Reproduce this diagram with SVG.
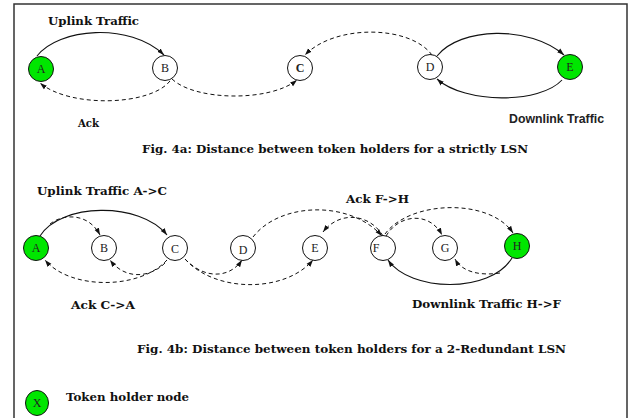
<svg xmlns="http://www.w3.org/2000/svg" width="639" height="418" viewBox="0 0 639 418">
<style>
.nd{fill:#fff;stroke:#111;stroke-width:1}
.tk{fill:#00e600;stroke:#111;stroke-width:1}
.lb{font-family:"Liberation Serif","Times New Roman",serif;font-size:12px;fill:#222;text-anchor:middle}
.bt{font-family:"DejaVu Serif","Liberation Serif",serif;font-size:11px;font-weight:bold;fill:#111}
.st{font-family:"Liberation Sans",Arial,sans-serif;font-size:12px;font-weight:bold;fill:#222}
.sol{fill:none;stroke:#111;stroke-width:1.1;marker-end:url(#ah)}
.dsh{fill:none;stroke:#111;stroke-width:1;stroke-dasharray:4 3;marker-end:url(#ah)}
</style>
<defs>
<marker id="ah" markerUnits="userSpaceOnUse" markerWidth="8" markerHeight="6" refX="7" refY="3" orient="auto">
<path d="M0,0.6 L7,3 L0,5.4 Z" fill="#111"/>
</marker>
</defs>
<rect width="639" height="418" fill="#fff"/>
<path d="M14,418 V4 H627 V418" fill="none" stroke="#333" stroke-width="1.5"/>

<g id="connectors">
<!-- Fig 4a -->
<path class="sol" d="M37,56 C58,28 130,22 164,55"/>
<path class="dsh" d="M170,81 C150,106 70,108 40,83"/>
<path class="dsh" d="M172,79 C195,101 270,102 297,80"/>
<path class="dsh" d="M432,55 C410,25 335,24 305,55"/>
<path class="sol" d="M437,56 C460,27 530,25 564,55"/>
<path class="sol" d="M562,80 C540,104 465,104 437,79"/>
<!-- Fig 4b -->
<path class="sol" d="M40,236 C60,203 140,201 167,235"/>
<path class="dsh" d="M50,224 C62,214 88,212 100,235"/>
<path class="dsh" d="M167,260 C140,290 70,290 45,260"/>
<path class="dsh" d="M165,263 C150,278 125,280 110,260"/>
<path class="dsh" d="M185,259 C205,280 230,278 242,260"/>
<path class="dsh" d="M185,259 C215,293 285,293 313,260"/>
<path class="dsh" d="M253,237 C280,202 350,200 382,236"/>
<path class="dsh" d="M383,236 C370,214 340,210 323,232"/>
<path class="dsh" d="M385,234 C410,200 490,198 513,233"/>
<path class="dsh" d="M386,236 C400,213 430,212 442,235"/>
<path class="sol" d="M512,258 C490,294 410,292 388,260"/>
<path class="dsh" d="M500,273 C480,276 462,272 455,259"/>
</g>

<!-- Fig 4a nodes -->
<g id="a1"><circle class="tk" cx="41" cy="69" r="12.5"/><text class="lb" x="41" y="73">A</text></g>
<g id="b1"><circle class="nd" cx="165" cy="68" r="12.5"/><text class="lb" x="165" y="72">B</text></g>
<g id="c1"><circle class="nd" cx="300" cy="68" r="12.5"/><text class="lb" x="300" y="72" font-weight="bold">C</text></g>
<g id="d1"><circle class="nd" cx="430" cy="67" r="12.5"/><text class="lb" x="430" y="71">D</text></g>
<g id="e1"><circle class="tk" cx="570" cy="67" r="12.5"/><text class="lb" x="570" y="71">E</text></g>

<!-- Fig 4b nodes -->
<g id="a2"><circle class="tk" cx="36" cy="248" r="12.5"/><text class="lb" x="36" y="252">A</text></g>
<g id="b2"><circle class="nd" cx="104" cy="248" r="12.5"/><text class="lb" x="104" y="252">B</text></g>
<g id="c2"><circle class="nd" cx="175" cy="248" r="12.5"/><text class="lb" x="175" y="253">C</text></g>
<g id="d2"><circle class="nd" cx="243" cy="248" r="12.5"/><text class="lb" x="243" y="254">D</text></g>
<g id="e2"><circle class="nd" cx="315" cy="248" r="12.5"/><text class="lb" x="315" y="252">E</text></g>
<g id="f2"><circle class="nd" cx="383" cy="248" r="12.5"/><text class="lb" x="376" y="252">F</text></g>
<g id="g2"><circle class="nd" cx="445" cy="248" r="12.5"/><text class="lb" x="445" y="252">G</text></g>
<g id="h2"><circle class="tk" cx="517" cy="246" r="12.5"/><text class="lb" x="517" y="250">H</text></g>

<!-- legend -->
<g id="legend"><ellipse class="tk" cx="37" cy="403" rx="11.5" ry="12.5"/><text class="lb" x="37" y="407">X</text>
<text class="bt" x="66" y="401" textLength="123" lengthAdjust="spacingAndGlyphs">Token holder node</text></g>

<!-- labels -->
<text class="bt" x="48" y="25" textLength="91" lengthAdjust="spacingAndGlyphs">Uplink Traffic</text>
<text class="bt" x="78" y="127" textLength="21" lengthAdjust="spacingAndGlyphs">Ack</text>
<text class="st" x="509" y="123" textLength="95" lengthAdjust="spacingAndGlyphs">Downlink Traffic</text>
<text class="bt" x="142" y="153" textLength="386" lengthAdjust="spacingAndGlyphs">Fig. 4a: Distance between token holders for a strictly LSN</text>
<text class="bt" x="37" y="195" textLength="130" lengthAdjust="spacingAndGlyphs">Uplink Traffic A-&gt;C</text>
<text class="bt" x="71" y="309" textLength="64" lengthAdjust="spacingAndGlyphs">Ack C-&gt;A</text>
<text class="bt" x="346" y="203" textLength="63" lengthAdjust="spacingAndGlyphs">Ack F-&gt;H</text>
<text class="bt" x="412" y="308" textLength="149" lengthAdjust="spacingAndGlyphs">Downlink Traffic H-&gt;F</text>
<text class="bt" x="137" y="353" textLength="429" lengthAdjust="spacingAndGlyphs">Fig. 4b: Distance between token holders for a 2-Redundant LSN</text>
</svg>
